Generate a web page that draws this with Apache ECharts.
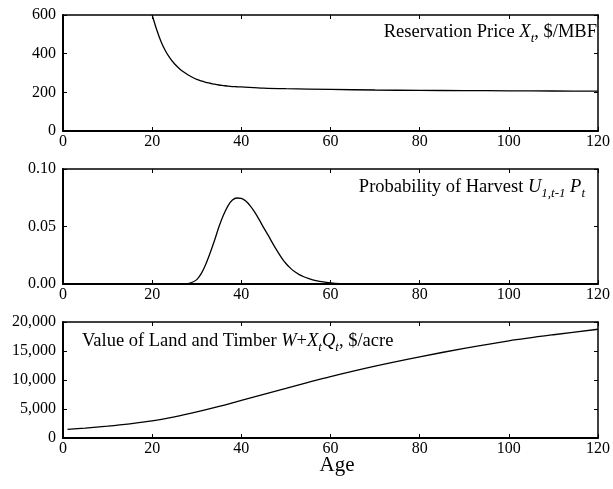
<!DOCTYPE html>
<html>
<head>
<meta charset="utf-8">
<script src="https://cdn.jsdelivr.net/npm/echarts@6/dist/echarts.min.js"></script>
<style>html,body{margin:0;padding:0;background:#fff;}#c{width:613px;height:489px;}</style>
</head>
<body>
<div id="c"></div>
<script>
// Panel 1: reservation price X_t ($/MBF)
var priceAges   = [20, 21, 22, 23, 24, 25, 26, 27, 28, 29, 30, 31, 32, 33, 34, 35, 36, 37, 38, 39, 40, 45, 50, 60, 70, 80, 90, 100, 110, 120];
var priceValues = [600, 525, 462, 414, 377, 348, 325, 306, 291, 278, 267, 259, 252, 247, 242, 238, 235, 232, 230, 229, 228, 222, 219, 215, 212, 210, 209, 208, 207, 206];
// Panel 2: probability of harvest U_{1,t-1} P_t
var probAges   = [0, 27, 28, 29, 30, 31, 32, 33, 34, 35, 36, 37, 38, 39, 40, 41, 42, 43, 44, 45, 46, 47, 48, 49, 50, 51, 52, 53, 54, 55, 56, 57, 58, 60, 62, 65, 70, 120];
var probValues = [0, 0, 0.0003, 0.0015, 0.0038, 0.009, 0.017, 0.027, 0.038, 0.05, 0.06, 0.068, 0.073, 0.0748, 0.0745, 0.0722, 0.068, 0.0625, 0.056, 0.049, 0.0425, 0.0355, 0.029, 0.023, 0.0178, 0.0138, 0.0106, 0.0082, 0.0063, 0.0048, 0.0036, 0.0027, 0.002, 0.001, 0.0004, 0.0001, 0, 0];
// Panel 3: value of land and timber W + X_t Q_t ($/acre)
var valueAges   = [1, 5, 10, 15, 20, 25, 30, 35, 40, 45, 50, 55, 60, 70, 80, 90, 100, 110, 120];
var valueValues = [1500, 1720, 2050, 2450, 2950, 3650, 4500, 5450, 6500, 7520, 8550, 9600, 10600, 12400, 14000, 15450, 16750, 17800, 18750];

function pairs(xs, ys) { return xs.map(function (x, i) { return [x, ys[i]]; }); }

var FONT = 'Liberation Serif';
var grids = [
  {left: 63, right: 15, top: 15, height: 116},
  {left: 63, right: 15, top: 169, height: 115},
  {left: 63, right: 15, top: 322, height: 116}
];
var yCfg = [
  {min: 0, max: 600, interval: 200, fmt: function (v) { return String(v); }},
  {min: 0, max: 0.1, interval: 0.05, fmt: function (v) { return v.toFixed(2); }},
  {min: 0, max: 20000, interval: 5000, fmt: function (v) { return v.toLocaleString('en-US'); }}
];

var xAxes = [], yAxes = [];
grids.forEach(function (g, i) {
  var tick = {show: true, inside: true, length: 4, lineStyle: {color: '#000', width: 1}};
  xAxes.push({gridIndex: i, type: 'value', min: 0, max: 120, interval: 20, position: 'bottom',
    axisLine: {show: true, onZero: false, lineStyle: {color: '#000', width: 2}}, axisTick: tick,
    axisLabel: {color: '#000', fontFamily: FONT, fontSize: 16, margin: 3}, splitLine: {show: false}});
  xAxes.push({gridIndex: i, type: 'value', min: 0, max: 120, interval: 20, position: 'top',
    axisLine: {show: true, onZero: false, lineStyle: {color: '#000', width: 1.5}}, axisTick: tick,
    axisLabel: {show: false}, splitLine: {show: false}});
  yAxes.push({gridIndex: i, type: 'value', min: yCfg[i].min, max: yCfg[i].max, interval: yCfg[i].interval, position: 'left',
    axisLine: {show: true, onZero: false, lineStyle: {color: '#000', width: 2}}, axisTick: tick,
    axisLabel: {color: '#000', fontFamily: FONT, fontSize: 16, margin: 7, formatter: yCfg[i].fmt}, splitLine: {show: false}});
  yAxes.push({gridIndex: i, type: 'value', min: yCfg[i].min, max: yCfg[i].max, interval: yCfg[i].interval, position: 'right',
    axisLine: {show: true, onZero: false, lineStyle: {color: '#000', width: 1.5}}, axisTick: tick,
    axisLabel: {show: false}, splitLine: {show: false}});
});

var lineStyle = {color: '#000', width: 1.3};
function series(i, data) {
  return {type: 'line', xAxisIndex: 2 * i, yAxisIndex: 2 * i, data: data, showSymbol: false, symbol: 'none',
    smooth: 0.3, lineStyle: lineStyle, clip: true, animation: false, silent: true};
}

var base = {fontFamily: FONT, fontSize: 18.5, lineHeight: 18, verticalAlign: 'top', color: '#000'};
var rich = {
  n: base,
  i: Object.assign({}, base, {fontStyle: 'italic'}),
  s: {fontFamily: FONT, fontSize: 13, fontStyle: 'italic', lineHeight: 13, verticalAlign: 'top', padding: [9, 0, 0, 0], color: '#000'}
};

var option = {
  backgroundColor: '#fff',
  animation: false,
  grid: grids,
  xAxis: xAxes,
  yAxis: yAxes,
  series: [
    series(0, pairs(priceAges, priceValues)),
    series(1, pairs(probAges, probValues)),
    series(2, pairs(valueAges, valueValues))
  ],
  graphic: [
    {type: 'text', right: 16, top: 23, style: {text: '{n|Reservation Price }{i|X}{s|t}{n|, $/MBF}', rich: rich}},
    {type: 'text', right: 28, top: 178, style: {text: '{n|Probability of Harvest }{i|U}{s|1,t-1}{n| }{i|P}{s|t}', rich: rich}},
    {type: 'text', left: 82, top: 332, style: {text: '{n|Value of Land and Timber }{i|W}{n|+}{i|X}{s|t}{i|Q}{s|t}{n|, $/acre}', rich: rich}},
    {type: 'text', x: 337, y: 465, style: {text: 'Age', fontFamily: FONT, fontSize: 21, fill: '#000', textAlign: 'center', textVerticalAlign: 'middle'}}
  ]
};

var chart = echarts.init(document.getElementById('c'), null, {renderer: 'canvas'});
chart.setOption(option);
</script>
</body>
</html>
